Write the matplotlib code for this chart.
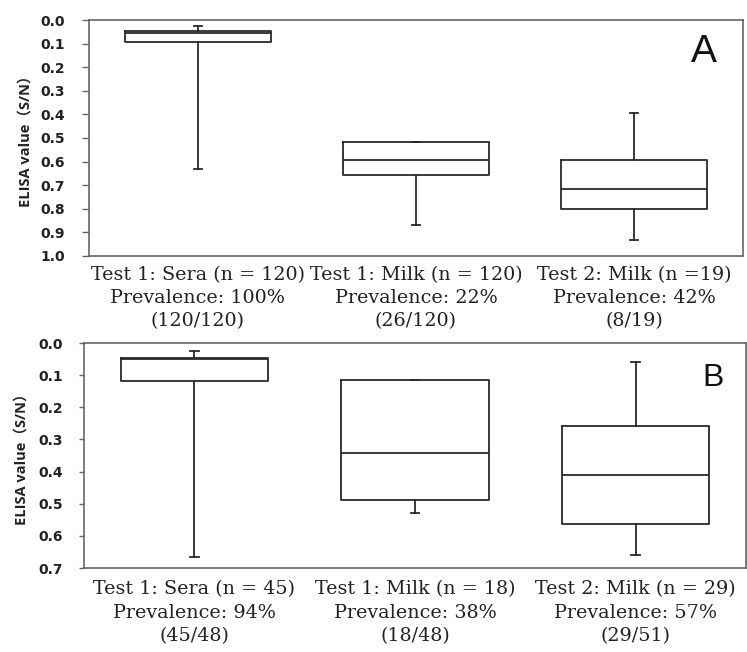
import matplotlib
matplotlib.use("Agg")
import matplotlib.pyplot as plt

# Panel A data (ELISA S/N values)
labels_a = ["Test 1: Sera (n = 120)\nPrevalence: 100%\n(120/120)",
            "Test 1: Milk (n = 120)\nPrevalence: 22%\n(26/120)",
            "Test 2: Milk (n =19)\nPrevalence: 42%\n(8/19)"]
whislo_a = [0.025, 0.518, 0.394]
q1_a = [0.048, 0.518, 0.593]
med_a = [0.057, 0.593, 0.717]
q3_a = [0.093, 0.657, 0.800]
whishi_a = [0.630, 0.869, 0.932]

# Panel B data
labels_b = ["Test 1: Sera (n = 45)\nPrevalence: 94%\n(45/48)",
            "Test 1: Milk (n = 18)\nPrevalence: 38%\n(18/48)",
            "Test 2: Milk (n = 29)\nPrevalence: 57%\n(29/51)"]
whislo_b = [0.025, 0.116, 0.059]
q1_b = [0.046, 0.116, 0.257]
med_b = [0.050, 0.343, 0.411]
q3_b = [0.118, 0.489, 0.563]
whishi_b = [0.666, 0.528, 0.660]

yticks_a = [0.0, 0.1, 0.2, 0.3, 0.4, 0.5, 0.6, 0.7, 0.8, 0.9, 1.0]
yticks_b = [0.0, 0.1, 0.2, 0.3, 0.4, 0.5, 0.6, 0.7]

fig = plt.figure(figsize=(7.47, 6.52), dpi=100)
ax_a = fig.add_axes([0.119, 0.6074, 0.8756, 0.3619])
ax_b = fig.add_axes([0.1124, 0.1288, 0.8863, 0.3451])

line_col = "#2a2a2a"
frame_col = "#666666"
sans = ["Open Sans", "Noto Sans CJK JP"]


def draw(ax, labels, lo, q1, med, q3, hi, yticks, ymax, letter, lx, ly, lsize,
         ylab_pad, tick_len, tick_pad, x_pad):
    stats = []
    for i in range(len(labels)):
        stats.append(dict(whislo=min(lo[i], hi[i]), q1=q1[i], med=med[i],
                          q3=q3[i], whishi=max(lo[i], hi[i]), fliers=[]))
    ax.bxp(stats, positions=range(len(labels)), widths=0.667, showfliers=False,
           boxprops=dict(color=line_col, linewidth=1.3),
           medianprops=dict(color=line_col, linewidth=1.3),
           whiskerprops=dict(color=line_col, linewidth=1.3),
           capprops=dict(color=line_col, linewidth=1.3),
           capwidths=0.04)
    ax.set_xlim(-0.5, len(labels) - 0.5)
    ax.set_ylim(ymax, 0.0)
    ax.set_yticks(yticks)
    ax.set_yticklabels([f"{t:.1f}" for t in yticks], fontsize=10,
                       fontweight="bold", family="DejaVu Sans", color="#222222")
    ax.set_xticks(range(len(labels)))
    ax.set_xticklabels(labels, fontsize=13.8, family="DejaVu Serif",
                       linespacing=1.38, color="#222222")
    ax.tick_params(axis="y", length=tick_len, width=1.0, color=frame_col,
                   pad=tick_pad)
    ax.tick_params(axis="x", length=0, pad=x_pad)
    for s in ax.spines.values():
        s.set_color(frame_col)
        s.set_linewidth(1.2)
    ax.set_ylabel("ELISA value（S/N）", fontsize=10.5, fontweight="bold",
                  family=sans, labelpad=ylab_pad, color="#222222")
    ax.text(lx, ly, letter, transform=ax.transAxes, fontsize=lsize,
            family="Liberation Sans", ha="center", va="center", color="#111111")


draw(ax_a, labels_a, whislo_a, q1_a, med_a, q3_a, whishi_a, yticks_a, 1.0,
     "A", 0.940, 0.864, 28, 6, 5, 12, 7)
draw(ax_b, labels_b, whislo_b, q1_b, med_b, q3_b, whishi_b, yticks_b, 0.7,
     "B", 0.950, 0.844, 23, 7.5, 3.5, 11.5, 9)

fig.savefig("out.png", dpi=100)
